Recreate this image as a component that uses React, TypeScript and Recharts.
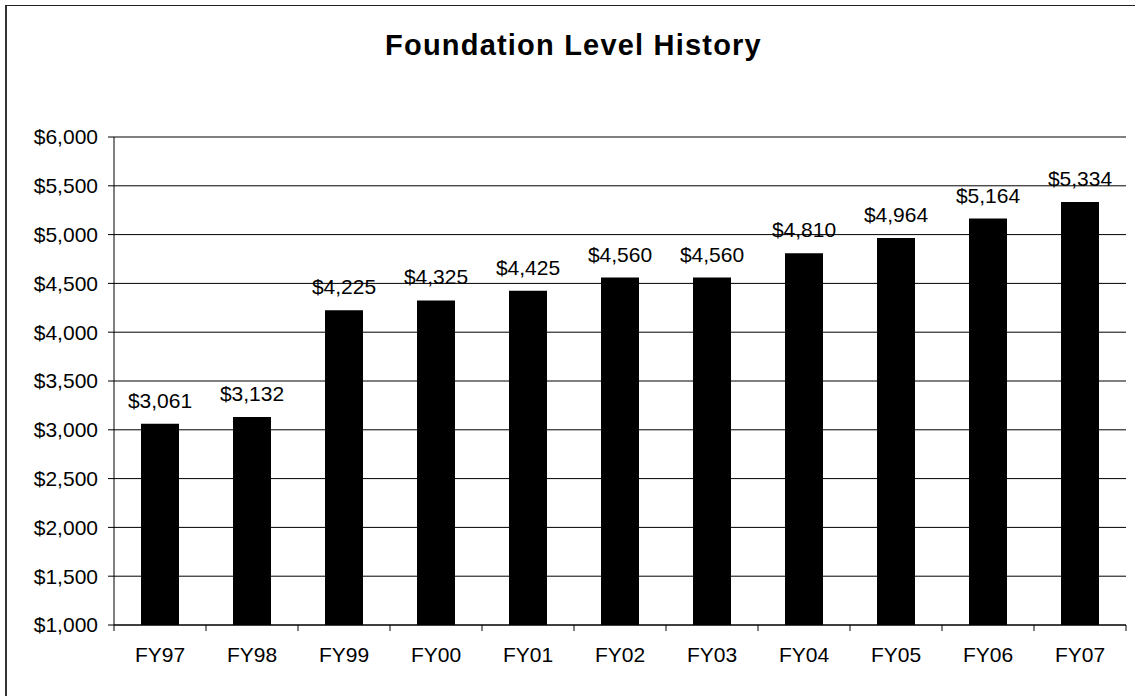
import React from 'react';
import {
  BarChart,
  Bar,
  XAxis,
  YAxis,
  CartesianGrid,
  LabelList,
} from 'recharts';

// fiscal years shown on the x axis
const years = ['FY97', 'FY98', 'FY99', 'FY00', 'FY01', 'FY02', 'FY03', 'FY04', 'FY05', 'FY06', 'FY07'];

// foundation level per pupil, in dollars
const levels = [3061, 3132, 4225, 4325, 4425, 4560, 4560, 4810, 4964, 5164, 5334];

const yTicks = [1000, 1500, 2000, 2500, 3000, 3500, 4000, 4500, 5000, 5500, 6000];

const chartData = years.map((year, i) => ({ year, level: levels[i] }));

const FONT = '"Liberation Sans", Arial, sans-serif';
const money = (v: number) => `$${v.toLocaleString('en-US')}`;

// x ticks sit on the category boundaries, label stays centred
const XTick = (props: any) => {
  const { x, y, payload, index, visibleTicksCount } = props;
  const half = payload && payload.offset ? payload.offset : 46;
  const axisY = y - 22;
  return (
    <g>
      <line x1={x - half} x2={x - half} y1={axisY} y2={axisY + 6} stroke="#000" />
      {index === visibleTicksCount - 1 && (
        <line x1={x + half} x2={x + half} y1={axisY} y2={axisY + 6} stroke="#000" />
      )}
      <text x={x} y={y} dy="0.71em" textAnchor="middle" fontSize={21} fontFamily={FONT} fill="#000">
        {payload.value}
      </text>
    </g>
  );
};

export default function App() {
  return (
    <div
      style={{
        position: 'absolute',
        left: 0,
        top: 0,
        width: 1135,
        height: 696,
        overflow: 'hidden',
        background: '#fff',
      }}
    >
      <div
        style={{
          position: 'absolute',
          left: 5,
          top: 5,
          width: 1150,
          height: 720,
          borderLeft: '2px solid #333',
          borderTop: '1.5px solid #222',
        }}
      />
      <div
        style={{
          position: 'absolute',
          left: 6,
          top: 31,
          width: 1135,
          textAlign: 'center',
          fontFamily: FONT,
          fontWeight: 'bold',
          fontSize: 29,
          letterSpacing: 1.2,
          lineHeight: '29px',
          color: '#000',
        }}
      >
        Foundation Level History
      </div>
      <BarChart
        width={1135}
        height={696}
        data={chartData}
        margin={{ top: 137, right: 9, bottom: 0, left: 0 }}
        style={{ position: 'absolute', left: 0, top: 0 }}
      >
        <CartesianGrid vertical={false} stroke="#000" strokeWidth={1} />
        <XAxis
          dataKey="year"
          height={71}
          axisLine={{ stroke: '#000' }}
          tickLine={false}
          tickSize={6}
          tickMargin={16}
          interval={0}
          tick={<XTick />}
        />
        <YAxis
          domain={[1000, 6000]}
          ticks={yTicks}
          width={114}
          interval={0}
          allowDataOverflow
          axisLine={{ stroke: '#000' }}
          tickLine={{ stroke: '#000' }}
          tickSize={6}
          tickMargin={10}
          tickFormatter={money}
          tick={{ fontSize: 21, fontFamily: FONT, fill: '#000' }}
        />
        <YAxis
          yAxisId="frame"
          orientation="right"
          width={0}
          tick={false}
          tickLine={false}
          axisLine={{ stroke: '#808080' }}
        />
        <Bar dataKey="level" fill="#000" barSize={38} isAnimationActive={false}>
          <LabelList
            dataKey="level"
            position="top"
            offset={16}
            formatter={(v: any) => money(Number(v))}
            style={{ fontSize: 21, fontFamily: FONT, fill: '#000' }}
          />
        </Bar>
      </BarChart>
    </div>
  );
}
